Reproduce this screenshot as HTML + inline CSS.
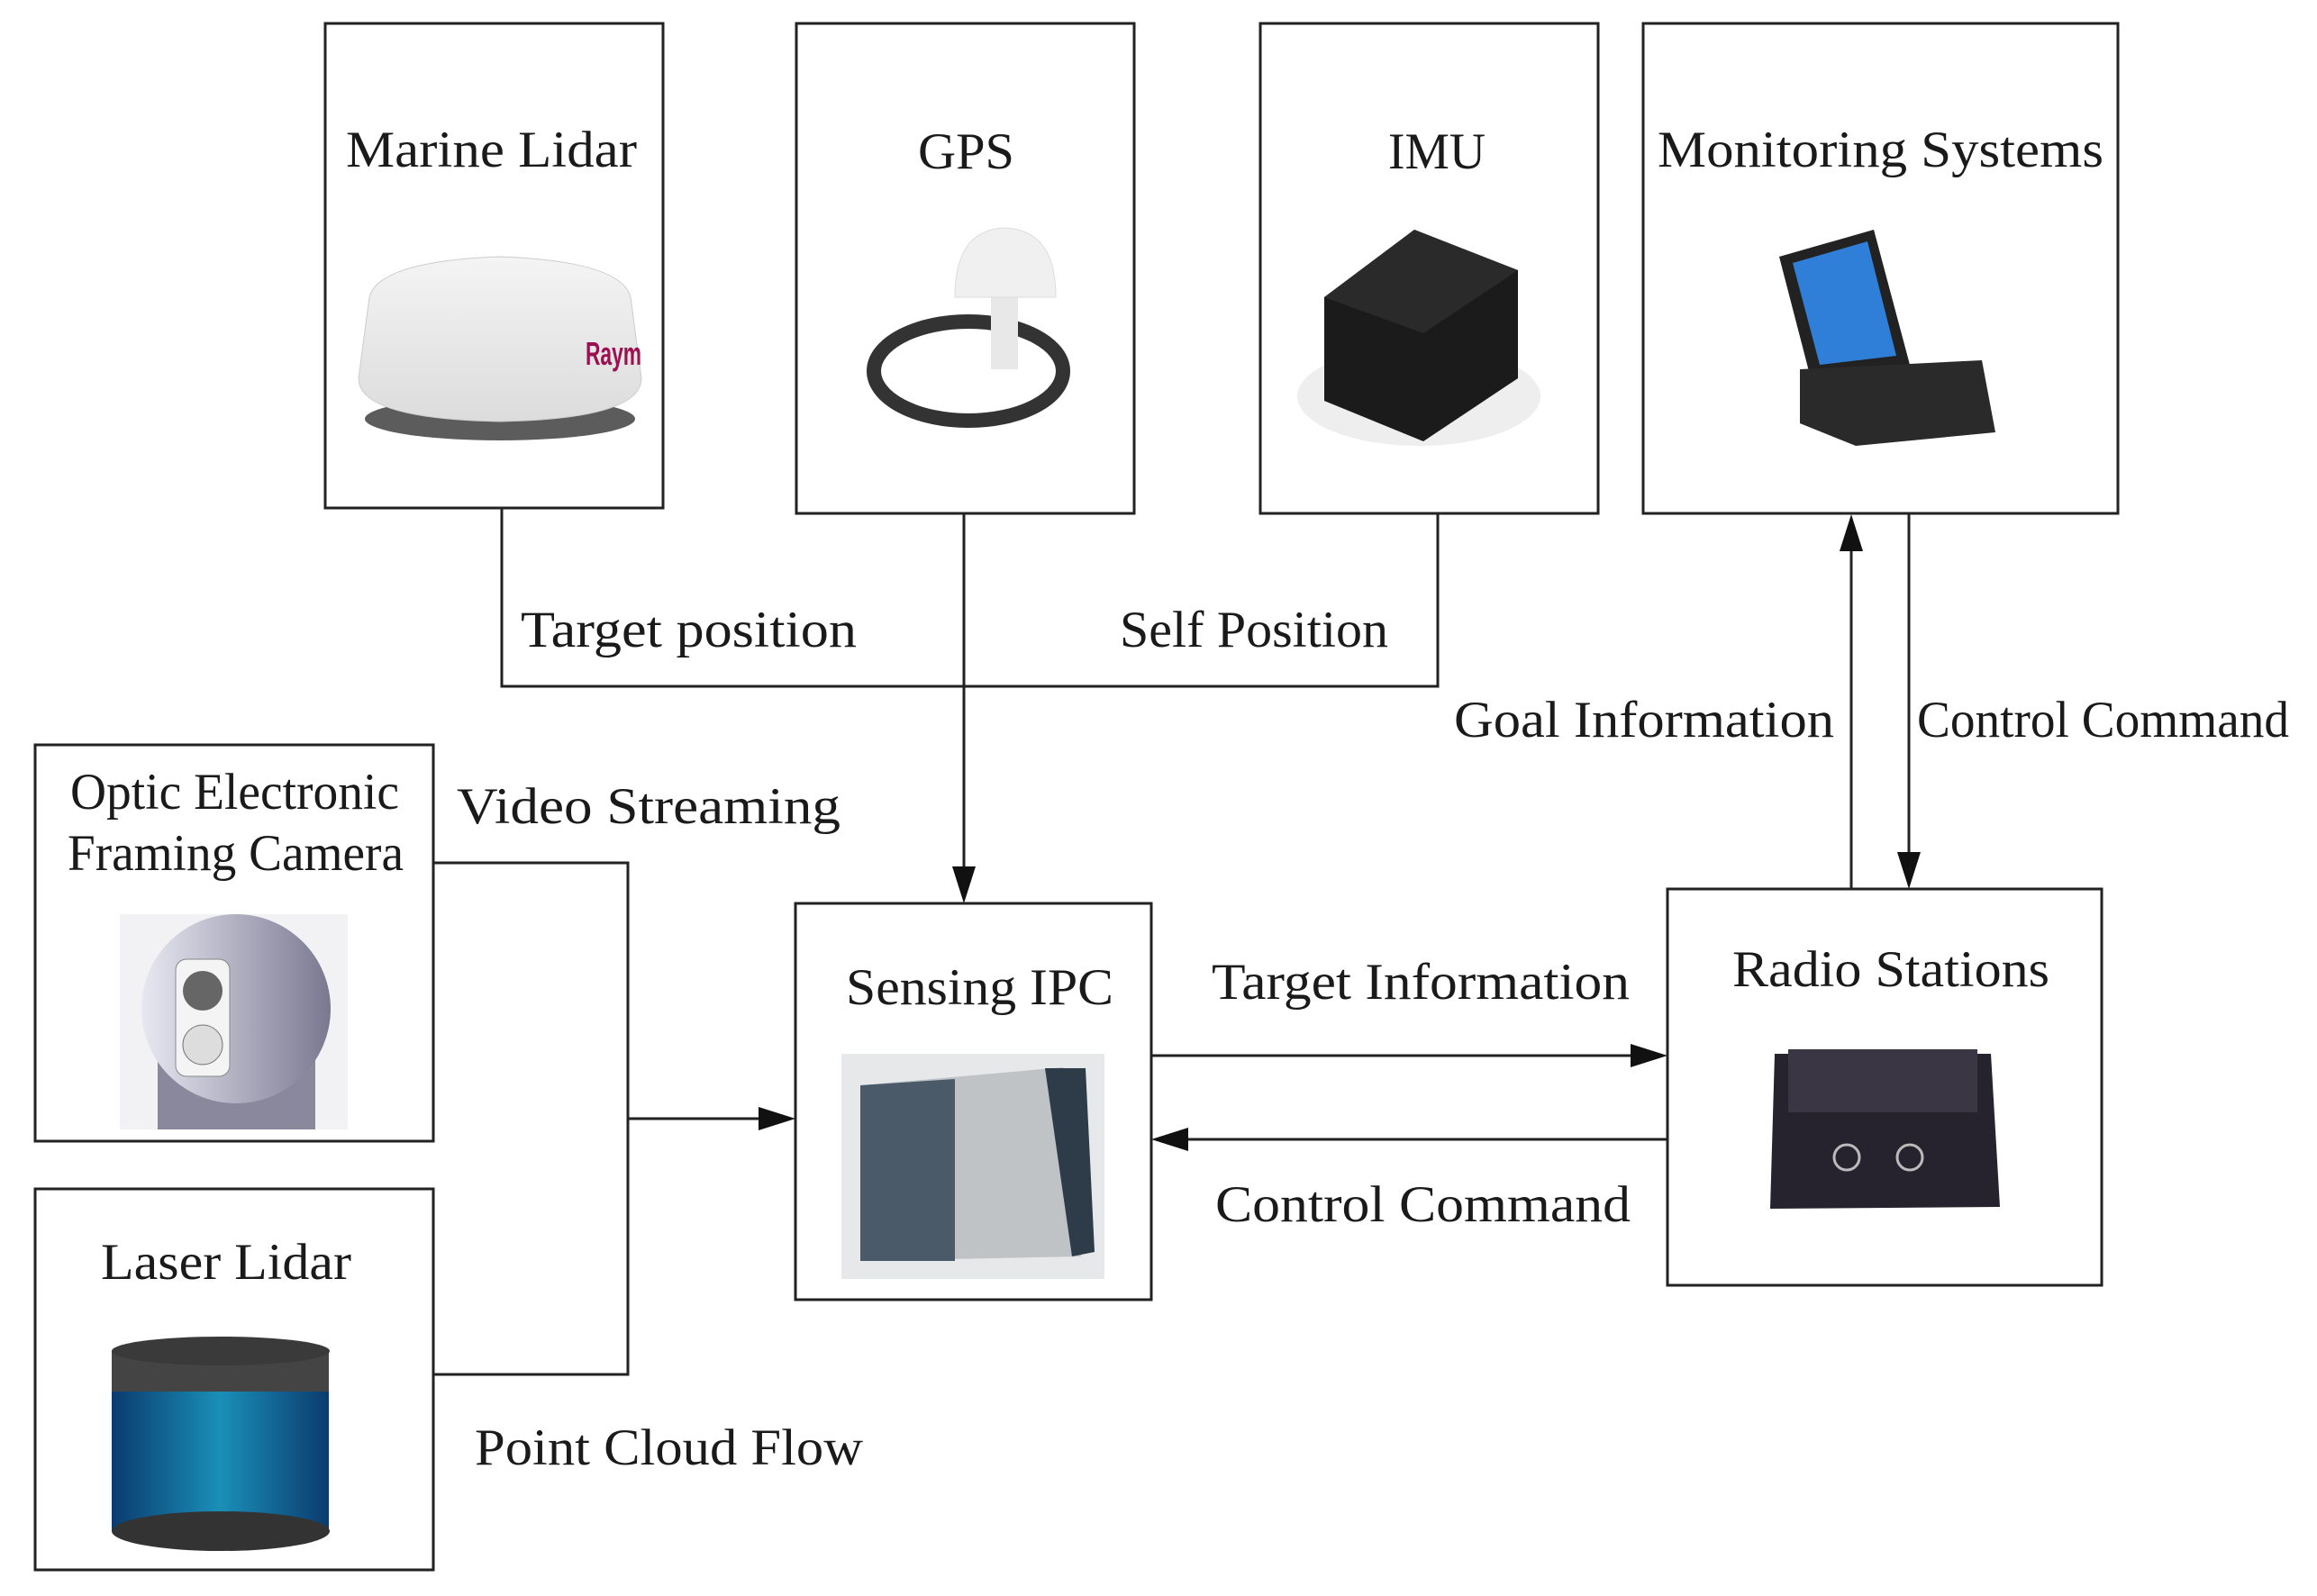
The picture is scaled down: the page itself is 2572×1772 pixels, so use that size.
<!DOCTYPE html>
<html><head><meta charset="utf-8"><style>html,body{margin:0;padding:0;background:#fff}svg{display:block}</style></head>
<body>
<svg width="2572" height="1772" viewBox="0 0 2572 1772" xmlns="http://www.w3.org/2000/svg">
<defs>
<linearGradient id="dome" x1="0" y1="0" x2="0" y2="1"><stop offset="0" stop-color="#f4f4f4"/><stop offset="1" stop-color="#dcdcdc"/></linearGradient>
<linearGradient id="cam" x1="0" y1="0" x2="1" y2="0"><stop offset="0" stop-color="#e8e8f2"/><stop offset="1" stop-color="#7a7890"/></linearGradient>
<linearGradient id="lid" x1="0" y1="0" x2="1" y2="0"><stop offset="0" stop-color="#0b3b6e"/><stop offset=".5" stop-color="#1a8fb8"/><stop offset="1" stop-color="#0b3b6e"/></linearGradient>
</defs>
<g fill="none" stroke="#222" stroke-width="3">
<rect x="361" y="26" width="375" height="538"/>
<rect x="884" y="26" width="375" height="544"/>
<rect x="1399" y="26" width="375" height="544"/>
<rect x="1824" y="26" width="527" height="544"/>
<rect x="39" y="827" width="442" height="440"/>
<rect x="39" y="1320" width="442" height="423"/>
<rect x="883" y="1003" width="395" height="440"/>
<rect x="1851" y="987" width="482" height="440"/>
<polyline points="557,564 557,762 1596,762 1596,570"/>
<line x1="1070" y1="570" x2="1070" y2="970"/>
<polyline points="481,958 697,958 697,1526 481,1526"/>
<line x1="697" y1="1242" x2="850" y2="1242"/>
<line x1="1278" y1="1172" x2="1815" y2="1172"/>
<line x1="1851" y1="1265" x2="1315" y2="1265"/>
<line x1="2055" y1="987" x2="2055" y2="605"/>
<line x1="2119" y1="570" x2="2119" y2="955"/>
</g>
<g fill="#111">
<polygon points="1070,1003 1057,962 1083,962"/>
<polygon points="883,1242 842,1229 842,1255"/>
<polygon points="1851,1172 1810,1159 1810,1185"/>
<polygon points="1278,1265 1319,1252 1319,1278"/>
<polygon points="2055,571 2042,612 2068,612"/>
<polygon points="2119,987 2106,946 2132,946"/>
</g>
<g font-family="Liberation Serif, serif" font-size="57" fill="#1a1a1a">
<text x="384" y="185" textLength="323" lengthAdjust="spacingAndGlyphs">Marine Lidar</text>
<text x="1019" y="187" textLength="107" lengthAdjust="spacingAndGlyphs">GPS</text>
<text x="1541" y="187" textLength="108" lengthAdjust="spacingAndGlyphs">IMU</text>
<text x="1840" y="185" textLength="495" lengthAdjust="spacingAndGlyphs">Monitoring Systems</text>
<text x="578" y="718" textLength="373" lengthAdjust="spacingAndGlyphs">Target position</text>
<text x="1243" y="718" textLength="298" lengthAdjust="spacingAndGlyphs">Self Position</text>
<text x="1614" y="818" textLength="422" lengthAdjust="spacingAndGlyphs">Goal Information</text>
<text x="2128" y="818" textLength="413" lengthAdjust="spacingAndGlyphs">Control Command</text>
<text x="78" y="898" textLength="365" lengthAdjust="spacingAndGlyphs">Optic Electronic</text>
<text x="75" y="966" textLength="373" lengthAdjust="spacingAndGlyphs">Framing Camera</text>
<text x="507" y="914" textLength="426" lengthAdjust="spacingAndGlyphs">Video  Streaming</text>
<text x="112" y="1420" textLength="278" lengthAdjust="spacingAndGlyphs">Laser Lidar</text>
<text x="527" y="1626" textLength="431" lengthAdjust="spacingAndGlyphs">Point Cloud Flow</text>
<text x="939" y="1115" textLength="297" lengthAdjust="spacingAndGlyphs">Sensing IPC</text>
<text x="1345" y="1109" textLength="464" lengthAdjust="spacingAndGlyphs">Target Information</text>
<text x="1349" y="1356" textLength="461" lengthAdjust="spacingAndGlyphs">Control Command</text>
<text x="1923" y="1095" textLength="352" lengthAdjust="spacingAndGlyphs">Radio Stations</text>
</g>
<!-- marine lidar -->
<ellipse cx="555" cy="465" rx="150" ry="24" fill="#333" opacity=".8"/>
<path d="M410,330 Q420,290 555,285 Q690,290 700,330 L712,420 Q712,465 555,468 Q398,465 398,420 Z" fill="url(#dome)" stroke="#ccc"/>
<text x="650" y="405" font-family="Liberation Sans,sans-serif" font-weight="bold" font-size="36" fill="#9a1050" textLength="62" lengthAdjust="spacingAndGlyphs">Raym</text>
<!-- gps -->
<ellipse cx="1075" cy="412" rx="105" ry="55" fill="none" stroke="#333" stroke-width="16"/>
<rect x="1100" y="330" width="30" height="80" fill="#e8e8e8"/>
<path d="M1060,330 Q1060,255 1115,253 Q1172,255 1172,330 Z" fill="#f0f0f0" stroke="#ddd"/>
<!-- imu -->
<ellipse cx="1575" cy="440" rx="135" ry="55" fill="#eee"/>
<path d="M1470,330 L1570,255 L1685,300 L1685,420 L1580,490 L1470,445 Z" fill="#1b1b1b"/>
<path d="M1470,330 L1570,255 L1685,300 L1580,370 Z" fill="#2a2a2a"/>
<!-- monitoring -->
<path d="M1975,285 L2080,255 L2120,405 L2010,420 Z" fill="#222"/>
<path d="M1990,292 L2073,268 L2105,395 L2020,405 Z" fill="#2f7fd8"/>
<path d="M1998,410 L2200,400 L2215,480 L2060,495 L1998,470 Z" fill="#2a2a2a"/>
<!-- camera -->
<rect x="133" y="1015" width="253" height="239" fill="#f2f2f5"/>
<rect x="175" y="1160" width="175" height="94" fill="#8a889c"/>
<circle cx="262" cy="1120" r="105" fill="url(#cam)"/>
<rect x="195" y="1065" width="60" height="130" rx="12" fill="#f4f4f4" stroke="#888"/>
<circle cx="225" cy="1100" r="22" fill="#666"/>
<circle cx="225" cy="1160" r="22" fill="#ddd" stroke="#777"/>
<!-- laser lidar -->
<rect x="124" y="1530" width="241" height="170" fill="url(#lid)"/>
<ellipse cx="245" cy="1700" rx="121" ry="22" fill="#333"/>
<rect x="124" y="1500" width="241" height="45" fill="#444"/>
<ellipse cx="245" cy="1500" rx="121" ry="16" fill="#3a3a3a"/>
<!-- ipc -->
<rect x="934" y="1170" width="292" height="250" fill="#e6e8ea"/>
<path d="M955,1205 L1180,1185 L1200,1395 L955,1400 Z" fill="#bfc3c6"/>
<path d="M955,1205 L1060,1198 L1060,1400 L955,1400 Z" fill="#4a5a68"/>
<path d="M1160,1186 L1205,1186 L1215,1390 L1190,1395 Z" fill="#2e3c4a"/>
<!-- radio -->
<path d="M1970,1170 L2210,1170 L2220,1340 L1965,1342 Z" fill="#26232e"/>
<rect x="1985" y="1165" width="210" height="70" fill="#3a3644"/>
<circle cx="2050" cy="1285" r="14" fill="none" stroke="#bbb" stroke-width="3"/>
<circle cx="2120" cy="1285" r="14" fill="none" stroke="#bbb" stroke-width="3"/>
</svg>
</body></html>
